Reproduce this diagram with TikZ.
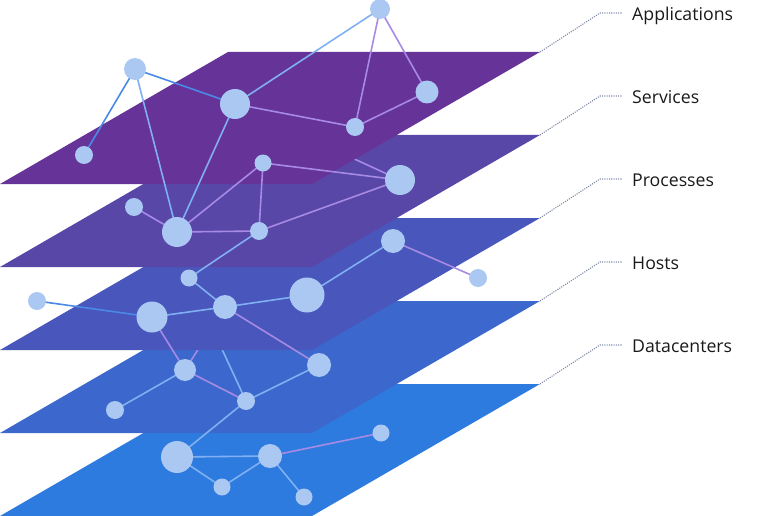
\documentclass[tikz,border=0pt]{standalone}
\usepackage{fontspec}
\setmainfont{Open Sans}
\definecolor{cApp}{HTML}{663399}
\definecolor{cSrv}{HTML}{5947A8}
\definecolor{cPrc}{HTML}{4956BC}
\definecolor{cHst}{HTML}{3C68CD}
\definecolor{cDc}{HTML}{2E7BE0}
\definecolor{nodefill}{HTML}{AAC8F2}
\definecolor{eblue}{HTML}{4A8AE6}
\definecolor{elight}{HTML}{80B0F2}
\definecolor{elav}{HTML}{A68AE4}
\definecolor{connc}{HTML}{7F8AA6}
\definecolor{txt}{HTML}{1A1A1A}
\begin{document}
\begin{tikzpicture}[x=1pt,y=-1pt,
  dot/.style={circle,fill=nodefill,inner sep=0pt,minimum size=#1},
  edge/.style={line width=1.6pt,#1},
  conn/.style={connc,line width=1.1pt,dash pattern=on 1.1pt off 1.2pt},
  lbl/.style={anchor=base west,inner sep=0pt,font=\fontsize{17.7}{21}\selectfont,text=txt}]
\useasboundingbox (0,0) rectangle (768,516);
\newcommand{\plane}[2]{\fill[#1] (0,#2) -- (312,#2) -- (540,#2-132) -- (228,#2-132) -- cycle;}
% node positions
\path
 (380,9) coordinate (pA1) (135,69) coordinate (pA2) (235,104) coordinate (pA3)
 (427,92) coordinate (pA4) (355,127) coordinate (pA5) (84,155) coordinate (pA6)
 (263,163) coordinate (pS1) (400,180) coordinate (pS2) (134,207) coordinate (pS3)
 (177,232) coordinate (pS4) (259,231) coordinate (pS5)
 (393,241) coordinate (pP1) (478,278) coordinate (pP2) (189,278) coordinate (pP3)
 (37,301) coordinate (pP4) (152,317) coordinate (pP5) (225,307) coordinate (pP6)
 (307,295) coordinate (pP7)
 (185,370) coordinate (pH1) (319,365) coordinate (pH2) (246,401) coordinate (pH3)
 (115,410) coordinate (pH4)
 (177,457) coordinate (pD1) (270,456) coordinate (pD2) (381,433) coordinate (pD3)
 (222,487) coordinate (pD4) (304,497) coordinate (pD5);
% planes, bottom first, with hidden edges between
\plane{cDc}{516}
\plane{cHst}{433}
\draw[edge=elav] (pH1) -- (pP6);
\draw[edge=elight] (pH3) -- (pP3);
\plane{cPrc}{350}
\plane{cSrv}{267}
\draw[edge=elav] (pS2) -- (pA3);
\plane{cApp}{184}
% visible edges
\draw[edge=elight] (pA1) -- (pA3);
\draw[edge=elav] (pA1) -- (pA5);
\draw[edge=elav] (pA1) -- (pA4);
\draw[edge=elav] (pA4) -- (pA5);
\draw[edge=elav] (pA3) -- (pA5);
\draw[edge=eblue] (pA2) -- (pA3);
\draw[edge=eblue] (pA2) -- (pA6);
\draw[edge=elight] (pA2) -- (pS4);
\draw[edge=elight] (pA3) -- (pS4);
\draw[edge=elav] (pS4) -- (pS1);
\draw[edge=elav] (pS1) -- (pS5);
\draw[edge=elav] (pS1) -- (pS2);
\draw[edge=elav] (pS4) -- (pS5);
\draw[edge=elav] (pS4) -- (pS3);
\draw[edge=elav] (pS5) -- (pS2);
\draw[edge=elight] (pS5) -- (pP3);
\draw[edge=elight] (pP1) -- (pP7);
\draw[edge=elav] (pP1) -- (pP2);
\draw[edge=elight] (pP3) -- (pP6);
\draw[edge=elight] (pP6) -- (pP7);
\draw[edge=elight] (pP6) -- (pP5);
\draw[edge=eblue] (pP5) -- (pP4);
\draw[edge=elav] (pP6) -- (pH2);
\draw[edge=elav] (pP5) -- (pH1);
\draw[edge=elight] (pH1) -- (pH4);
\draw[edge=elav] (pH1) -- (pH3);
\draw[edge=elight] (pH3) -- (pH2);
\draw[edge=elight] (pH3) -- (pD1);
\draw[edge=elight] (pD1) -- (pD2);
\draw[edge=elight] (pD1) -- (pD4);
\draw[edge=elight] (pD4) -- (pD2);
\draw[edge=elight] (pD2) -- (pD5);
\draw[edge=elav] (pD2) -- (pD3);
% nodes
\node[dot=20pt] (A1) at (pA1) {};
\node[dot=22pt] (A2) at (pA2) {};
\node[dot=30pt] (A3) at (pA3) {};
\node[dot=23pt] (A4) at (pA4) {};
\node[dot=18pt] (A5) at (pA5) {};
\node[dot=18pt] (A6) at (pA6) {};
\node[dot=17pt] (S1) at (pS1) {};
\node[dot=30pt] (S2) at (pS2) {};
\node[dot=18pt] (S3) at (pS3) {};
\node[dot=30pt] (S4) at (pS4) {};
\node[dot=18pt] (S5) at (pS5) {};
\node[dot=24pt] (P1) at (pP1) {};
\node[dot=18pt] (P2) at (pP2) {};
\node[dot=17pt] (P3) at (pP3) {};
\node[dot=18pt] (P4) at (pP4) {};
\node[dot=31pt] (P5) at (pP5) {};
\node[dot=24pt] (P6) at (pP6) {};
\node[dot=35pt] (P7) at (pP7) {};
\node[dot=22pt] (H1) at (pH1) {};
\node[dot=24pt] (H2) at (pH2) {};
\node[dot=18pt] (H3) at (pH3) {};
\node[dot=18pt] (H4) at (pH4) {};
\node[dot=32pt] (D1) at (pD1) {};
\node[dot=24pt] (D2) at (pD2) {};
\node[dot=17pt] (D3) at (pD3) {};
\node[dot=17pt] (D4) at (pD4) {};
\node[dot=17pt] (D5) at (pD5) {};
% labels and connectors
\foreach \t/\name/\k in {52/Applications/1,135/Services/2,218/Processes/3,301/Hosts/4,384/Datacenters/5}{
  \coordinate (c\k) at (540,\t);
  \coordinate (k\k) at (600,\t-39);
  \coordinate (e\k) at (622,\t-39);
  \node[lbl] (L\k) at (632,\t-31.5) {\name};
  \draw[conn] (c\k) -- (k\k) -- (e\k);
}
\end{tikzpicture}
\end{document}
